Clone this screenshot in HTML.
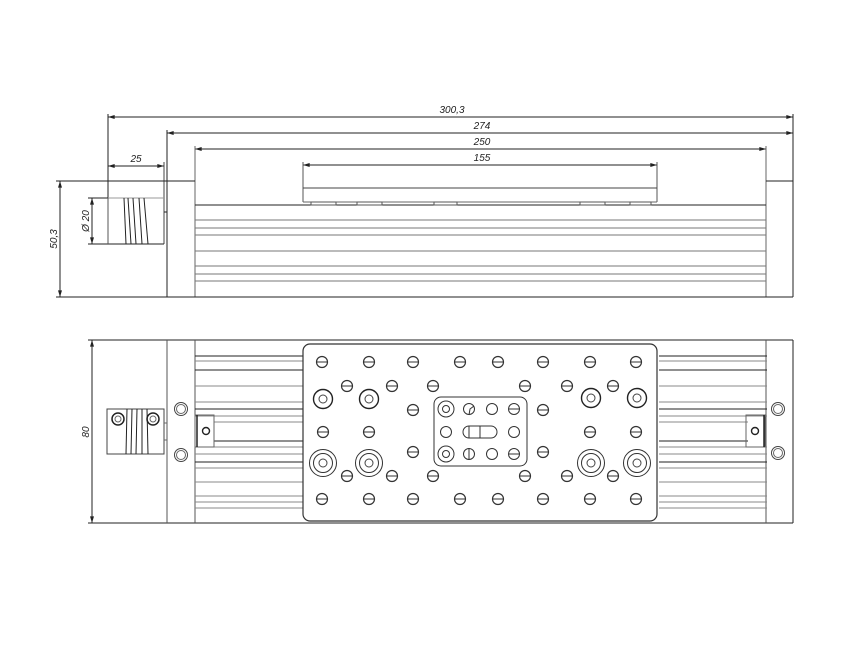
<!DOCTYPE html>
<html><head><meta charset="utf-8"><style>html,body{margin:0;padding:0;background:#fff}svg{display:block}</style></head><body>
<svg width="866" height="650" viewBox="0 0 866 650" xmlns="http://www.w3.org/2000/svg" font-family="Liberation Sans, sans-serif" font-style="italic" font-size="10">
<defs>
<g id="h"><circle r="5.5" fill="#fff" stroke="#333" stroke-width="1.2"/><line x1="-5.5" y1="0" x2="5.5" y2="0" stroke="#333" stroke-width="1"/></g>
<g id="cb"><circle r="9.5" fill="none" stroke="#222" stroke-width="1.4"/><circle r="4" fill="none" stroke="#444"/></g>
<g id="db"><circle r="13.5" fill="none" stroke="#333"/><circle r="9.5" fill="none" stroke="#333"/><circle r="4" fill="none" stroke="#444"/></g>
<g id="ec"><circle r="6.5" fill="none" stroke="#444"/><circle r="4.5" fill="none" stroke="#666"/></g>
<marker id="a" viewBox="0 0 10 6" refX="10" refY="3" markerWidth="8" markerHeight="4" orient="auto-start-reverse"><path d="M0,0L10,3L0,6z" fill="#222"/></marker>
</defs>
<g stroke="#222" stroke-width="1" fill="none">
<!-- dimension lines top -->
<line x1="108" y1="117" x2="793" y2="117" marker-start="url(#a)" marker-end="url(#a)"/>
<line x1="167" y1="133" x2="793" y2="133" marker-start="url(#a)" marker-end="url(#a)"/>
<line x1="195" y1="149" x2="766" y2="149" marker-start="url(#a)" marker-end="url(#a)"/>
<line x1="303" y1="165" x2="657" y2="165" marker-start="url(#a)" marker-end="url(#a)"/>
<line x1="108" y1="166" x2="164" y2="166" marker-start="url(#a)" marker-end="url(#a)"/>
<line x1="60" y1="181" x2="60" y2="297" marker-start="url(#a)" marker-end="url(#a)"/>
<line x1="92" y1="198" x2="92" y2="244" marker-start="url(#a)" marker-end="url(#a)"/>
<!-- extension lines -->
<line x1="108" y1="114" x2="108" y2="198"/>
<line x1="167" y1="130" x2="167" y2="297"/>
<line x1="195" y1="146" x2="195" y2="297" stroke="#666"/>
<line x1="303" y1="162" x2="303" y2="202" stroke="#555"/>
<line x1="657" y1="162" x2="657" y2="202" stroke="#555"/>
<line x1="793" y1="114" x2="793" y2="297"/>
<line x1="766" y1="146" x2="766" y2="297" stroke="#666"/>
<line x1="164" y1="162" x2="164" y2="244" stroke="#444"/>
<line x1="164" y1="212" x2="167" y2="212"/>
<line x1="56" y1="181" x2="195" y2="181"/>
<line x1="766" y1="181" x2="793" y2="181"/>
<line x1="56" y1="297" x2="793" y2="297"/>
<line x1="88" y1="198" x2="108" y2="198"/>
<line x1="88" y1="244" x2="164" y2="244"/>
<!-- coupling side -->
<line x1="108" y1="198" x2="164" y2="198" stroke="#999"/>
<line x1="108" y1="198" x2="108" y2="244" stroke="#555"/>
<line x1="124" y1="198" x2="126" y2="244"/><line x1="128" y1="198" x2="131" y2="244"/><line x1="133" y1="198" x2="136" y2="244"/><line x1="139" y1="198" x2="142" y2="244"/><line x1="144" y1="198" x2="148" y2="244"/>
<!-- body side -->
<line x1="195" y1="205" x2="766" y2="205"/>
<g stroke="#777"><line x1="195" y1="220" x2="766" y2="220"/><line x1="195" y1="228" x2="766" y2="228"/><line x1="195" y1="235" x2="766" y2="235"/><line x1="195" y1="251" x2="766" y2="251"/><line x1="195" y1="266" x2="766" y2="266"/><line x1="195" y1="274" x2="766" y2="274"/><line x1="195" y1="281" x2="766" y2="281"/></g>
<!-- carriage side -->
<line x1="303" y1="188" x2="657" y2="188" stroke="#444"/>
<line x1="303" y1="202" x2="657" y2="202" stroke="#666"/>
<g stroke="#555"><rect x="311" y="202" width="25" height="3"/><rect x="357" y="202" width="25" height="3"/><rect x="434" y="202" width="23" height="3"/><rect x="580" y="202" width="25" height="3"/><rect x="630" y="202" width="21" height="3"/></g>

<!-- bottom view -->
<line x1="92" y1="340" x2="92" y2="523" marker-start="url(#a)" marker-end="url(#a)"/>
<line x1="88" y1="340" x2="793" y2="340"/>
<line x1="88" y1="523" x2="793" y2="523"/>
<line x1="167" y1="340" x2="167" y2="523" stroke="#555"/>
<line x1="195" y1="340" x2="195" y2="523" stroke="#555"/>
<line x1="766" y1="340" x2="766" y2="523" stroke="#555"/>
<line x1="793" y1="340" x2="793" y2="523"/>
<!-- coupling top -->
<rect x="107" y="409" width="57" height="45" stroke="#444"/>
<line x1="164" y1="423" x2="167" y2="423" stroke="#666"/><line x1="164" y1="440" x2="167" y2="440" stroke="#666"/>
<line x1="127" y1="409" x2="126" y2="454"/><line x1="132" y1="409" x2="131" y2="454"/><line x1="137" y1="409" x2="136" y2="454"/><line x1="142" y1="409" x2="142" y2="454"/><line x1="147" y1="409" x2="148" y2="454"/>
<circle cx="118" cy="419" r="6" stroke-width="1.5"/><circle cx="118" cy="419" r="3" stroke="#666"/>
<circle cx="153" cy="419" r="6" stroke-width="1.5"/><circle cx="153" cy="419" r="3" stroke="#666"/>
<use href="#ec" x="181" y="409"/><use href="#ec" x="181" y="455"/>
<use href="#ec" x="778" y="409"/><use href="#ec" x="778" y="453"/>
<!-- rails -->
<g id="rails">
<line x1="195" y1="356" x2="303" y2="356"/><line x1="195" y1="361" x2="303" y2="361" stroke="#888"/><line x1="195" y1="370" x2="303" y2="370"/>
<line x1="195" y1="386" x2="303" y2="386" stroke="#888"/><line x1="195" y1="402" x2="303" y2="402" stroke="#888"/><line x1="195" y1="409" x2="303" y2="409"/>
<line x1="195" y1="416" x2="303" y2="416" stroke="#888"/><line x1="214" y1="422" x2="303" y2="422" stroke="#888"/>
<line x1="214" y1="441" x2="303" y2="441"/><line x1="195" y1="447" x2="303" y2="447" stroke="#888"/><line x1="195" y1="454" x2="303" y2="454" stroke="#888"/>
<line x1="195" y1="462" x2="303" y2="462"/><line x1="195" y1="468" x2="303" y2="468" stroke="#888"/><line x1="195" y1="482" x2="303" y2="482" stroke="#888"/>
<line x1="195" y1="496" x2="303" y2="496" stroke="#888"/><line x1="195" y1="502" x2="303" y2="502" stroke="#888"/><line x1="195" y1="508" x2="303" y2="508" stroke="#888"/>
</g>
<use href="#rails" transform="translate(962,0) scale(-1,1)"/>
<rect x="195" y="415" width="19" height="32" stroke="#666"/><line x1="197" y1="415" x2="197" y2="447" stroke-width="1.5"/>
<circle cx="206" cy="431" r="3.5" stroke-width="1.4"/>
<rect x="746" y="415" width="19" height="32" stroke="#666"/><line x1="764" y1="415" x2="764" y2="447" stroke-width="1.5"/>
<circle cx="755" cy="431" r="3.5" stroke-width="1.4"/>
<!-- plate -->
<rect x="303" y="344" width="354" height="177" rx="7" fill="#fff" stroke="#333" stroke-width="1.2"/>
<rect x="434" y="397" width="93" height="69" rx="7" stroke="#333"/>
</g>
<g>
<use href="#h" x="322" y="362"/><use href="#h" x="369" y="362"/><use href="#h" x="413" y="362"/><use href="#h" x="460" y="362"/><use href="#h" x="498" y="362"/><use href="#h" x="543" y="362"/><use href="#h" x="590" y="362"/><use href="#h" x="636" y="362"/>
<use href="#h" x="347" y="386"/><use href="#h" x="392" y="386"/><use href="#h" x="433" y="386"/><use href="#h" x="525" y="386"/><use href="#h" x="567" y="386"/><use href="#h" x="613" y="386"/>
<use href="#h" x="413" y="410"/><use href="#h" x="543" y="410"/>
<use href="#h" x="323" y="432"/><use href="#h" x="369" y="432"/><use href="#h" x="590" y="432"/><use href="#h" x="636" y="432"/>
<use href="#h" x="413" y="452"/><use href="#h" x="543" y="452"/>
<use href="#h" x="347" y="476"/><use href="#h" x="392" y="476"/><use href="#h" x="433" y="476"/><use href="#h" x="525" y="476"/><use href="#h" x="567" y="476"/><use href="#h" x="613" y="476"/>
<use href="#h" x="322" y="499"/><use href="#h" x="369" y="499"/><use href="#h" x="413" y="499"/><use href="#h" x="460" y="499"/><use href="#h" x="498" y="499"/><use href="#h" x="543" y="499"/><use href="#h" x="590" y="499"/><use href="#h" x="636" y="499"/>
<use href="#cb" x="323" y="399"/><use href="#cb" x="369" y="399"/><use href="#cb" x="591" y="398"/><use href="#cb" x="637" y="398"/>
<use href="#db" x="323" y="463"/><use href="#db" x="369" y="463"/><use href="#db" x="591" y="463"/><use href="#db" x="637" y="463"/>
</g>
<g fill="none" stroke="#333">
<circle cx="446" cy="409" r="8"/><circle cx="446" cy="409" r="3.5"/>
<circle cx="446" cy="454" r="8"/><circle cx="446" cy="454" r="3.5"/>
<circle cx="446" cy="432" r="5.5"/>
<circle cx="469" cy="409" r="5.5"/><path d="M469,415 L470,409 L474,406"/>
<circle cx="469" cy="454" r="5.5"/><line x1="469" y1="448" x2="469" y2="460"/>
<circle cx="492" cy="409" r="5.5"/><circle cx="492" cy="454" r="5.5"/>
<circle cx="514" cy="409" r="5.5"/><line x1="508.5" y1="409" x2="519.5" y2="409"/>
<circle cx="514" cy="432" r="5.5"/>
<circle cx="514" cy="454" r="5.5"/><line x1="508.5" y1="454" x2="519.5" y2="454"/>
<rect x="463" y="426" width="34" height="12" rx="6"/><line x1="469" y1="426" x2="469" y2="438"/><line x1="480" y1="426" x2="480" y2="438"/>
</g>
<g fill="#222" text-anchor="middle">
<text x="452" y="113">300,3</text>
<text x="482" y="129">274</text>
<text x="482" y="145">250</text>
<text x="482" y="161">155</text>
<text x="136" y="162">25</text>
<text transform="translate(57,239) rotate(-90)">50,3</text>
<text transform="translate(89,221) rotate(-90)">Ø 20</text>
<text transform="translate(89,432) rotate(-90)">80</text>
</g>
</svg>
</body></html>
